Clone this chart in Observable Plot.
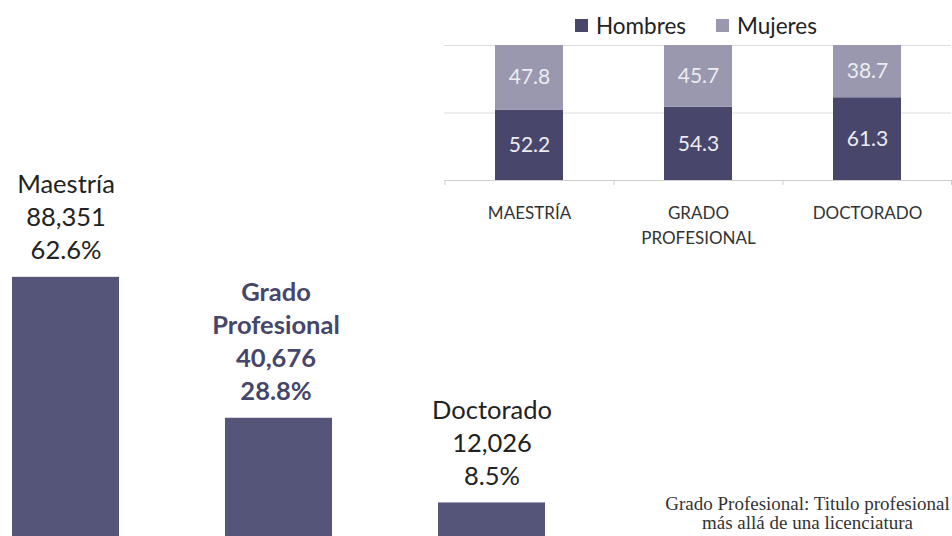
<!DOCTYPE html>
<html>
<head>
<meta charset="utf-8">
<script src="https://cdn.jsdelivr.net/npm/d3@7"></script>
<script src="https://cdn.jsdelivr.net/npm/@observablehq/plot@0.6"></script>
<style>
  html, body { margin: 0; padding: 0; background: #fff; overflow: hidden; }
  #wrap { position: relative; width: 952px; height: 536px; overflow: hidden; font-family: Lato, "Noto Sans", sans-serif; }
  #left { position: absolute; left: 0; top: 0; }
  #right { position: absolute; left: 440px; top: 0; }
  #legend { position: absolute; left: 575px; top: 12px; font-size: 22.5px; color: #222; display: flex; align-items: center; white-space: nowrap; }
  #legend .sw { display: inline-block; width: 13px; height: 13px; margin-right: 8px; }
  #legend .item { display: inline-flex; align-items: center; margin-right: 30px; }
  #caption { position: absolute; left: 647px; width: 321px; top: 494px; text-align: center; font-family: "Liberation Serif", "DejaVu Serif", serif; font-size: 19px; line-height: 19px; color: #333; white-space: nowrap; }
</style>
</head>
<body>
<div id="wrap">
  <div id="left"></div>
  <div id="right"></div>
  <div id="legend"></div>
  <div id="caption">Grado Profesional: Titulo profesional<br>más allá de una licenciatura</div>
</div>
<script>
// ---- Data ----
const niveles = ["Maestría", "Grado Profesional", "Doctorado"];
const etiquetas = ["Maestría", "Grado\nProfesional", "Doctorado"];
const totales = [88351, 40676, 12026];
const porcentajes = [62.6, 28.8, 8.5];

const categorias = ["MAESTRÍA", "GRADO PROFESIONAL", "DOCTORADO"];
const series = ["Hombres", "Mujeres"];
const hombres = [52.2, 54.3, 61.3];
const mujeres = [47.8, 45.7, 38.7];

const barColor = "#555479";
const serieColors = ["#48476b", "#9998ae"];

// ---- Left chart ----
const leftData = niveles.map((n, i) => ({
  nivel: n, total: totales[i], pct: porcentajes[i],
  text: `${etiquetas[i]}\n${d3.format(",")(totales[i])}\n${porcentajes[i].toFixed(1)}%`
}));

const left = Plot.plot({
  width: 560, height: 538,
  marginLeft: 12, marginRight: 15.5, marginTop: 0, marginBottom: 0,
  style: { fontFamily: "Lato, 'Noto Sans', sans-serif", background: "transparent" },
  x: { domain: niveles, paddingInner: 0.5, paddingOuter: 0, axis: null },
  y: { domain: [0, 182000], axis: null },
  marks: [
    Plot.barY(leftData, { x: "nivel", y: "total", fill: barColor }),
    Plot.text(leftData, {
      filter: d => d.nivel !== "Grado Profesional",
      x: "nivel", y: "total", text: "text",
      lineAnchor: "bottom", dy: -18, fontSize: 25.5, lineHeight: 1.3, fill: "#222"
    }),
    Plot.text(leftData, {
      filter: d => d.nivel === "Grado Profesional",
      x: "nivel", y: "total", text: "text",
      lineAnchor: "bottom", dy: -18, dx: -3, fontSize: 25.5, lineHeight: 1.3, fill: "#46456a", fontWeight: "bold"
    })
  ]
});
document.getElementById("left").appendChild(left);

// ---- Right chart ----
const rows = [];
categorias.forEach((c, i) => {
  rows.push({ cat: c, sexo: series[0], value: hombres[i] });
  rows.push({ cat: c, sexo: series[1], value: mujeres[i] });
});

const right = Plot.plot({
  width: 512, height: 250,
  marginLeft: 4, marginRight: 1, marginTop: 45, marginBottom: 70,
  style: { fontFamily: "Lato, 'Noto Sans', sans-serif", background: "transparent" },
  x: { domain: categorias, paddingInner: 0.6, paddingOuter: 0.3, axis: null, label: null },
  y: { domain: [0, 100], axis: null },
  color: { domain: series, range: serieColors },
  marks: [
    Plot.gridY([50, 100], { stroke: "#dcdcdc", strokeOpacity: 1 }),
    Plot.barY(rows, Plot.stackY({ x: "cat", y: "value", fill: "sexo" })),
    Plot.text(rows, Plot.stackY({ x: "cat", y: "value", z: "sexo", text: d => d.value.toFixed(1), fill: "#ececf2", fontSize: 21 })),
    Plot.ruleY([0], { stroke: "#cfcfcf" }),
    Plot.ruleX(categorias, { x: d => d, y1: 0, y2: -3.7, dx: -84.5, stroke: "#cfcfcf" }),
    Plot.ruleX(categorias.slice(-1), { x: d => d, y1: 0, y2: -3.7, dx: 84, stroke: "#cfcfcf" }),
    Plot.axisX({ tickSize: 0, tickPadding: 21, fontSize: 17, lineHeight: 1.47, label: null, tickFormat: d => d.replace(" ", "\n"), fill: "#333" })
  ]
});
document.getElementById("right").appendChild(right);

// ---- Legend ----
const legend = document.getElementById("legend");
series.forEach((s, i) => {
  const item = document.createElement("span");
  item.className = "item";
  const sw = document.createElement("span");
  sw.className = "sw";
  sw.style.background = serieColors[i];
  item.appendChild(sw);
  item.appendChild(document.createTextNode(s));
  legend.appendChild(item);
});
</script>
</body>
</html>
